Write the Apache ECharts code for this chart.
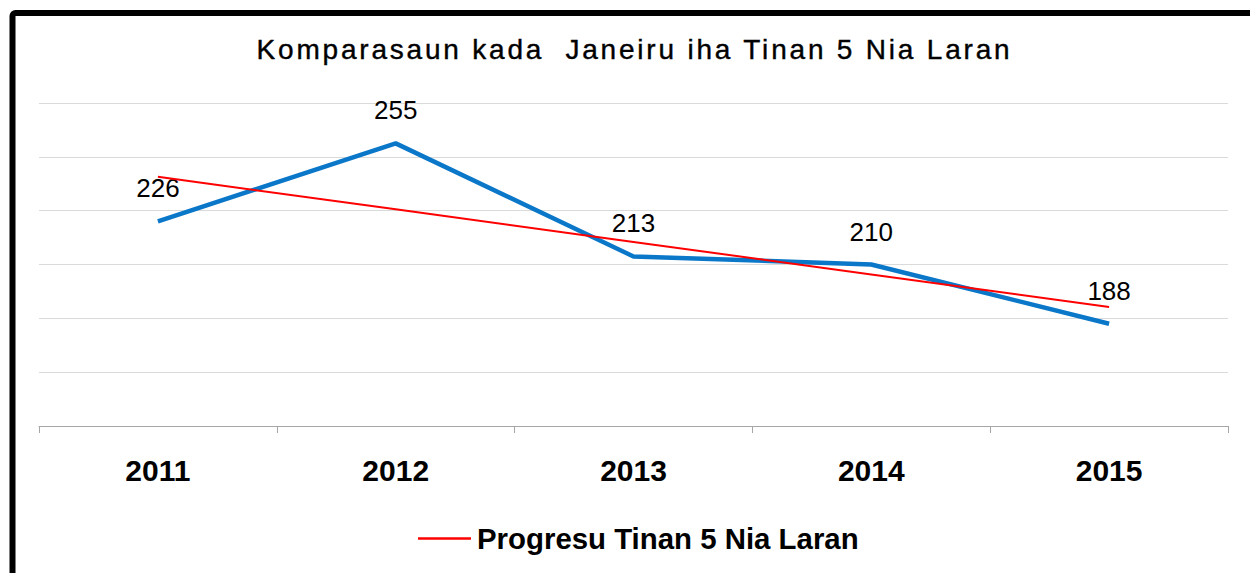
<!DOCTYPE html>
<html>
<head>
<meta charset="utf-8">
<script src="https://cdn.jsdelivr.net/npm/echarts@6/dist/echarts.min.js"></script>
<style>
  html, body { margin: 0; padding: 0; background: #fff; }
  #chart { width: 1250px; height: 573px; }
  #chart text { white-space: pre; }
</style>
</head>
<body>
<div id="chart"></div>
<script>
const titleText = 'Komparasaun kada  Janeiru iha Tinan 5 Nia Laran';
const categories = ['2011', '2012', '2013', '2014', '2015'];
const januaryValues = [226, 255, 213, 210, 188];
const trendValues = [242.6, 230.5, 218.4, 206.3, 194.2];
const trendName = 'Progresu Tinan 5 Nia Laran';
const januaryName = 'Janeiru';

const chart = echarts.init(document.getElementById('chart'), null, { renderer: 'svg' });
const FONT = '"Liberation Sans", Arial, sans-serif';

chart.setOption({
  animation: false,
  backgroundColor: '#ffffff',
  graphic: [
    {
      type: 'rect',
      shape: { x: 12.5, y: 13, width: 1400, height: 800, r: 3 },
      style: { fill: 'none', stroke: '#000', lineWidth: 6 },
      z: 100
    },
    {
      type: 'text',
      x: 634.5,
      y: 49,
      style: {
        text: titleText,
        font: '28px ' + FONT,
        fill: '#000',
        stroke: '#000',
        lineWidth: 0.4,
        textAlign: 'center',
        textVerticalAlign: 'middle'
      }
    }
  ],
  grid: { left: 39, right: 22, top: 103, bottom: 147, containLabel: false },
  legend: {
    data: [{ name: trendName, icon: 'rect' }],
    bottom: 15,
    left: 413,
    itemWidth: 53,
    itemHeight: 2.5,
    itemGap: 10,
    textStyle: { fontFamily: FONT, fontWeight: 'bold', fontSize: 29.4, color: '#000', padding: [0, 0, 0, 1] }
  },
  xAxis: {
    type: 'category',
    data: categories,
    boundaryGap: true,
    axisLine: { lineStyle: { color: '#a6a6a6', width: 1 } },
    axisTick: { show: true, length: 7, lineStyle: { color: '#a6a6a6' } },
    axisLabel: { fontFamily: FONT, fontWeight: 'bold', fontSize: 30, color: '#000', margin: 29 }
  },
  yAxis: {
    type: 'value',
    min: 150,
    max: 270,
    interval: 20,
    axisLine: { show: false },
    axisTick: { show: false },
    axisLabel: { show: false },
    splitLine: { lineStyle: { color: '#dadada', width: 1 } }
  },
  series: [
    {
      name: januaryName,
      type: 'line',
      data: januaryValues,
      symbol: 'circle',
      symbolSize: 0,
      showSymbol: true,
      lineStyle: { color: '#0a77c9', width: 4.5 },
      itemStyle: { color: '#0a77c9' },
      label: {
        show: true,
        position: 'top',
        distance: 20,
        fontFamily: FONT,
        fontSize: 26,
        color: '#000'
      },
      z: 2
    },
    {
      name: trendName,
      type: 'line',
      data: trendValues,
      symbol: 'none',
      lineStyle: { color: '#ff0000', width: 2 },
      itemStyle: { color: '#ff0000' },
      z: 3
    }
  ]
});

function spaceTitle() {
  document.querySelectorAll('#chart text').forEach(function (t) {
    if (t.textContent === titleText) {
      t.setAttribute('letter-spacing', '2.8px');
      t.style.letterSpacing = '2.8px';
      t.style.whiteSpace = 'pre';
    }
  });
}
spaceTitle();
chart.on('finished', spaceTitle);
setTimeout(spaceTitle, 50);
</script>
</body>
</html>
